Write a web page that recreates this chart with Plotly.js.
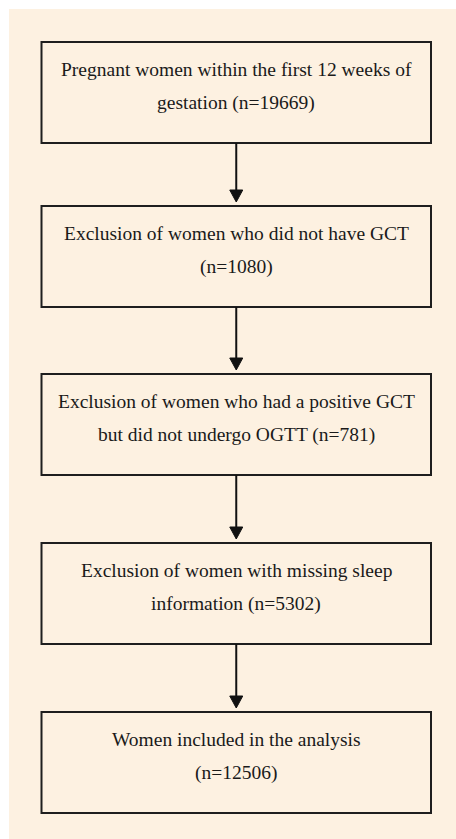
<!DOCTYPE html>
<html>
<head>
<meta charset="utf-8">
<script src="https://cdn.plot.ly/plotly-3.0.1.min.js"></script>
<style>html,body{margin:0;padding:0;background:#fff;}#chart{width:456px;height:839px;}</style>
</head>
<body>
<div id="chart"></div>
<script>
// Flowchart content
const firstLines = [
  "Pregnant women within the first 12 weeks of",
  "Exclusion of women who did not have GCT",
  "Exclusion of women who had a positive GCT",
  "Exclusion of women with missing sleep",
  "Women included in the analysis"
];
const secondPrefixes = [
  "gestation ",
  "",
  "but did not undergo OGTT ",
  "information ",
  ""
];
const counts = [19669, 1080, 781, 5302, 12506];

// Layout geometry (pixel-space axes)
const W = 456, H = 839;
const boxTops = [42, 206, 374, 543, 712];
const boxH = 101;
const boxL = 41.5, boxR = 431;
const cx = (boxL + boxR) / 2;

const shapes = [];
const annotations = [];

// panel background
shapes.push({type:'rect', xref:'x', yref:'y', x0:9, x1:W, y0:9, y1:H,
  fillcolor:'#fdf1e1', line:{width:0}, layer:'below'});

const font = {family:'Liberation Serif', size:19.5, color:'#1a1a1a'};

for (let i = 0; i < counts.length; i++) {
  const t = boxTops[i], b = t + boxH;
  shapes.push({type:'rect', xref:'x', yref:'y', x0:boxL, x1:boxR, y0:t, y1:b,
    line:{color:'#1e1e1e', width:2}, fillcolor:'rgba(0,0,0,0)'});
  annotations.push({x:cx, y:t+27, xref:'x', yref:'y', text:firstLines[i],
    showarrow:false, font:font, xanchor:'center', yanchor:'middle'});
  annotations.push({x:cx, y:t+61, xref:'x', yref:'y',
    text:secondPrefixes[i] + "(n=" + counts[i] + ")",
    showarrow:false, font:font, xanchor:'center', yanchor:'middle'});
  if (i < counts.length - 1) {
    const nextTop = boxTops[i+1];
    const tip = nextTop - 4;
    const headH = 12, headW = 6.5;
    shapes.push({type:'line', xref:'x', yref:'y', x0:cx, x1:cx, y0:b, y1:tip-headH+1,
      line:{color:'#111', width:2}});
    shapes.push({type:'path', xref:'x', yref:'y',
      path:`M ${cx-headW} ${tip-headH} L ${cx+headW} ${tip-headH} L ${cx} ${tip} Z`,
      fillcolor:'#111', line:{color:'#111', width:1}});
  }
}

const layout = {
  width: W, height: H,
  margin:{l:0, r:0, t:0, b:0, pad:0},
  paper_bgcolor:'#ffffff', plot_bgcolor:'rgba(0,0,0,0)',
  xaxis:{range:[0, W], visible:false, fixedrange:true},
  yaxis:{range:[H, 0], visible:false, fixedrange:true},
  shapes: shapes,
  annotations: annotations,
  showlegend:false
};

Plotly.newPlot('chart', [{x:[], y:[], type:'scatter'}], layout, {displayModeBar:false, staticPlot:true});
</script>
</body>
</html>
